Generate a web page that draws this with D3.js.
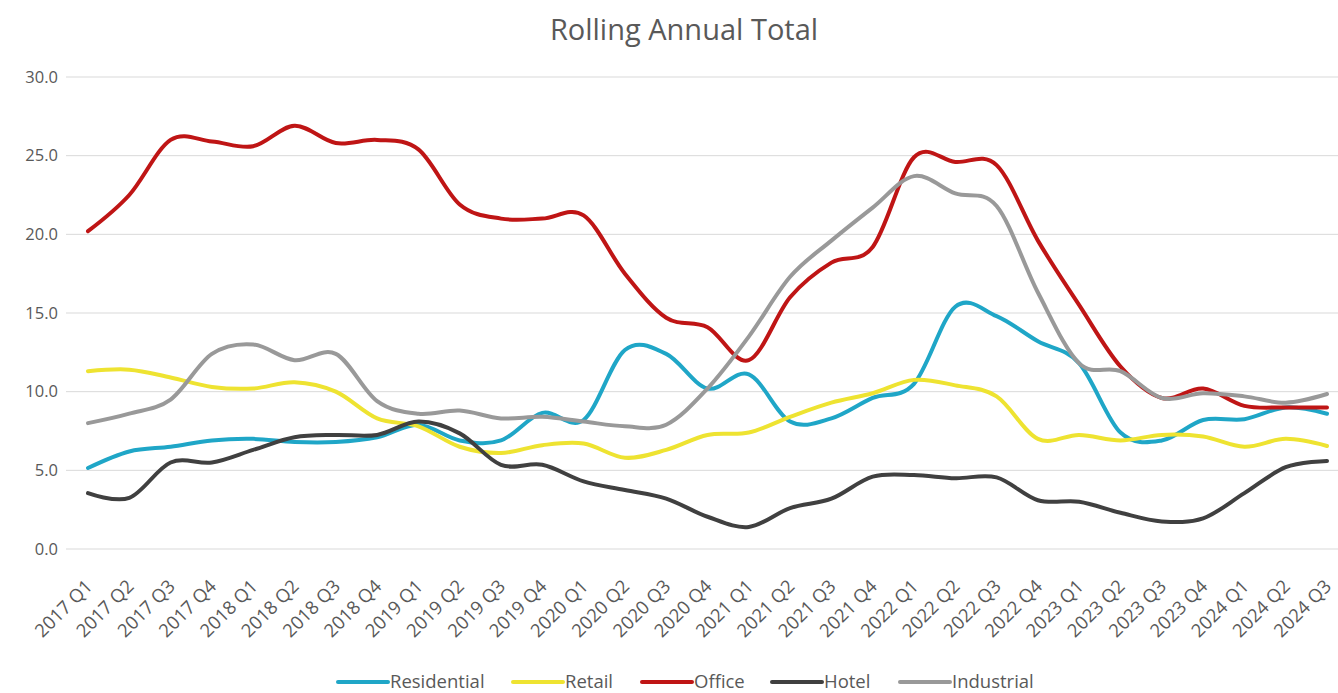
<!DOCTYPE html>
<html><head><meta charset="utf-8">
<script src="https://cdn.jsdelivr.net/npm/d3@7"></script>
<style>body{margin:0;background:#fff;}svg{display:block;font-family:"Open Sans","Noto Sans",sans-serif;}</style>
</head><body><svg id="chart" width="1338" height="693"></svg>
<script>
const categories = ["2017 Q1","2017 Q2","2017 Q3","2017 Q4","2018 Q1","2018 Q2","2018 Q3","2018 Q4","2019 Q1","2019 Q2","2019 Q3","2019 Q4","2020 Q1","2020 Q2","2020 Q3","2020 Q4","2021 Q1","2021 Q2","2021 Q3","2021 Q4","2022 Q1","2022 Q2","2022 Q3","2022 Q4","2023 Q1","2023 Q2","2023 Q3","2023 Q4","2024 Q1","2024 Q2","2024 Q3"];
const residential = [5.15,6.2,6.5,6.9,7.0,6.8,6.8,7.1,7.9,6.9,6.9,8.65,8.2,12.65,12.4,10.2,11.1,8.1,8.3,9.6,10.5,15.4,14.8,13.2,11.8,7.4,6.9,8.2,8.25,9.0,8.6];
const retail = [11.3,11.4,10.9,10.3,10.2,10.6,10.0,8.3,7.8,6.5,6.1,6.6,6.7,5.8,6.3,7.25,7.4,8.4,9.3,9.9,10.75,10.4,9.7,7.0,7.25,6.9,7.25,7.15,6.5,7.0,6.55];
const office = [20.2,22.5,26.0,25.9,25.6,26.9,25.8,26.0,25.4,21.9,21.0,21.0,21.2,17.5,14.7,14.1,12.0,16.0,18.2,19.2,24.9,24.6,24.4,19.6,15.5,11.6,9.6,10.2,9.1,9.0,9.0];
const hotel = [3.55,3.25,5.5,5.5,6.3,7.1,7.25,7.25,8.1,7.35,5.35,5.35,4.3,3.75,3.2,2.05,1.4,2.6,3.2,4.6,4.7,4.5,4.55,3.1,3.0,2.3,1.75,1.95,3.55,5.2,5.6];
const industrial = [8.0,8.6,9.5,12.4,13.0,12.0,12.4,9.4,8.6,8.8,8.3,8.4,8.1,7.8,7.9,10.2,13.5,17.3,19.6,21.7,23.7,22.6,21.8,16.3,11.8,11.3,9.6,9.9,9.7,9.3,9.85];
const yTicks = [0,5,10,15,20,25,30];
const seriesNames = ["Residential","Retail","Office","Hotel","Industrial"];
const seriesColors = ["#1fa6c7","#eee331","#bf1515","#404040","#999999"];
const seriesData = [residential, retail, office, hotel, industrial];

const svg = d3.select("#chart");
const x = d3.scalePoint().domain(categories).range([88, 1327]);
const y = d3.scaleLinear().domain([0, 30]).range([549, 77]);

svg.append("text").attr("x", 684).attr("y", 40).attr("text-anchor","middle")
  .attr("font-size", 29).attr("fill", "#595959").text("Rolling Annual Total");

// grid
svg.append("g").selectAll("line").data(yTicks).join("line")
  .attr("x1", 66).attr("x2", 1338).attr("y1", d => y(d)).attr("y2", d => y(d))
  .attr("stroke", "#d9d9d9").attr("stroke-width", 1);

// y labels
svg.append("g").selectAll("text").data(yTicks).join("text")
  .attr("x", 58).attr("y", d => y(d)).attr("dy", "0.35em").attr("text-anchor","end")
  .attr("font-size", 16.5).attr("fill", "#595959").text(d => d.toFixed(1));

// x labels
svg.append("g").selectAll("text").data(categories).join("text")
  .attr("transform", d => `translate(${x(d) + 1},${583}) rotate(-45)`)
  .attr("text-anchor","end").attr("dy","0.35em")
  .attr("font-size", 18.5).attr("fill", "#595959").text(d => d);

const line = d3.line().x((d,i) => x(categories[i])).y(d => y(d)).curve(d3.curveCardinal.tension(0));
svg.append("g").selectAll("path").data(seriesData).join("path")
  .attr("d", d => line(d)).attr("fill","none")
  .attr("stroke", (d,i) => seriesColors[i]).attr("stroke-width", 4)
  .attr("stroke-linecap","round").attr("stroke-linejoin","round");

// legend
const legendX = [338, 513, 642, 772, 900];
const lg = svg.append("g").selectAll("g").data(seriesNames).join("g")
  .attr("transform", (d,i) => `translate(${legendX[i]},682)`);
lg.append("line").attr("x1", 0).attr("x2", 50).attr("y1", 0).attr("y2", 0)
  .attr("stroke", (d,i) => seriesColors[i]).attr("stroke-width", 4).attr("stroke-linecap","round");
lg.append("text").attr("x", 52).attr("y", 0).attr("dy","0.33em")
  .attr("font-size", 18.5).attr("fill", "#595959").text(d => d);
</script></body></html>
